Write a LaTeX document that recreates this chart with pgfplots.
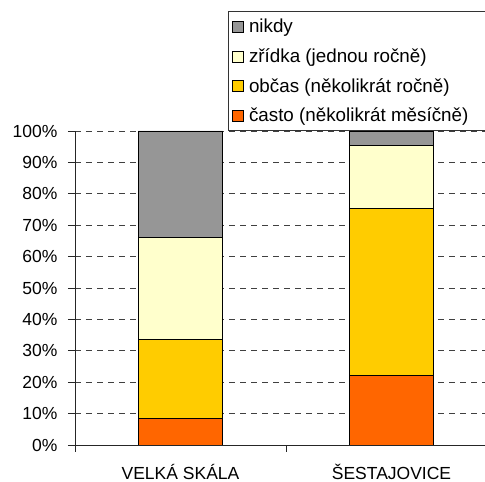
\documentclass[border=0pt]{standalone}
\usepackage{pgfplots}
\pgfplotsset{compat=1.18}
\usepackage{fontspec}
\setmainfont{Liberation Sans}
\definecolor{cNikdy}{RGB}{150,150,150}
\definecolor{cZridka}{RGB}{255,255,204}
\definecolor{cObcas}{RGB}{255,204,0}
\definecolor{cCasto}{RGB}{255,102,0}
\begin{document}
\begin{tikzpicture}[x=1pt,y=1pt]
\useasboundingbox (0,0) rectangle (485,482);
\clip (0,0) rectangle (485,482);
\begin{axis}[
  at={(75pt,37pt)}, anchor=south west,
  scale only axis, width=422pt, height=314pt,
  ybar stacked, bar width=84pt,
  xmin=-0.5, xmax=1.5, ymin=0, ymax=100,
  axis x line*=bottom, axis y line*=left,
  axis line style={-, black!85, line width=0.8pt},
  xtick={0,1}, xticklabels={VELKÁ SKÁLA, ŠESTAJOVICE},
  major x tick style={draw=none},
  minor xtick={-0.5,0.5,1.5},
  tick align=outside, major tick length=7pt, minor tick length=7pt,
  tick style={black!85, line width=0.8pt},
  ytick={0,10,...,100},
  yticklabels={0\%,10\%,20\%,30\%,40\%,50\%,60\%,70\%,80\%,90\%,100\%},
  ymajorgrids,
  major grid style={dash pattern=on 6pt off 5pt, black!75, line width=0.8pt},
  tick label style={font=\fontsize{17.5}{20}\selectfont},
  xticklabel style={yshift=-9pt},
  yticklabel style={xshift=-7pt},
  legend style={at={(axis description cs:0.3626,1.381)}, anchor=north west,
    draw=black!80, line width=0.8pt, fill=white,
    font=\fontsize{18.8}{21}\selectfont, inner xsep=4pt, inner ysep=5.5pt,
    row sep=10.3pt, column sep=3pt},
  legend cell align=left, reverse legend,
  legend image code/.code={\draw[#1, line width=0.6pt] (0pt,-5.5pt) rectangle (11pt,5.5pt);},
]
\addplot[fill=cCasto, draw=black, line width=0.8pt] coordinates {(0,8.5) (1,22.2)};
\addplot[fill=cObcas, draw=black, line width=0.8pt] coordinates {(0,25.2) (1,53.1)};
\addplot[fill=cZridka, draw=black, line width=0.8pt] coordinates {(0,32.4) (1,20.1)};
\addplot[fill=cNikdy, draw=black, line width=0.8pt] coordinates {(0,33.9) (1,4.6)};
\addlegendentry{často (několikrát měsíčně)\hspace*{40pt}}
\addlegendentry{občas (několikrát ročně)}
\addlegendentry{zřídka (jednou ročně)}
\addlegendentry{nikdy}
\end{axis}
\end{tikzpicture}
\end{document}
